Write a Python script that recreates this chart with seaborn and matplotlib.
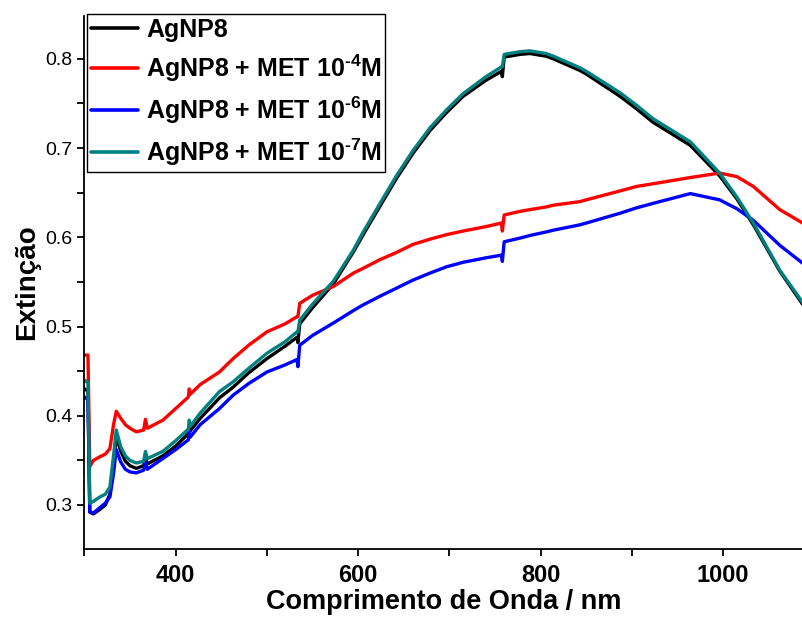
import matplotlib
matplotlib.use("Agg")
import matplotlib.pyplot as plt
import seaborn as sns
import pandas as pd
from matplotlib.ticker import MultipleLocator
from matplotlib import font_manager

# Plot configuration
sns.set_style("ticks")
names = {f.name for f in font_manager.fontManager.ttflist}
family = "Liberation Sans" if "Liberation Sans" in names else "DejaVu Sans"
plt.rcParams['font.family'] = [family, 'DejaVu Sans']
plt.rcParams['mathtext.fontset'] = 'custom'
plt.rcParams['mathtext.rm'] = family + ':bold'
plt.rcParams['mathtext.it'] = family + ':bold'
plt.rcParams['mathtext.bf'] = family + ':bold'
for key in ['text.color', 'axes.labelcolor', 'xtick.color', 'ytick.color']:
    plt.rcParams[key] = 'black'

# Data
wavelength = [300, 304, 306, 310, 317, 323, 328, 332, 335, 340, 345, 350, 357, 365, 367, 369,
              386, 400, 414, 415, 416, 427, 448, 463, 480, 500, 520, 533, 534, 536, 550, 573,
              595, 605, 624, 642, 660, 679, 697, 715, 740, 757, 758, 760, 777, 788, 806, 814,
              843, 850, 887, 905, 923, 964, 996, 1015, 1033, 1062, 1087]

agnp8 = [0.430, 0.428, 0.292, 0.290, 0.295, 0.300, 0.312, 0.345, 0.377, 0.360, 0.349, 0.344,
         0.341, 0.344, 0.353, 0.346, 0.355, 0.366, 0.380, 0.390, 0.383, 0.397, 0.420, 0.432,
         0.448, 0.464, 0.478, 0.488, 0.482, 0.503, 0.521, 0.548, 0.584, 0.602, 0.635, 0.666,
         0.694, 0.720, 0.740, 0.758, 0.776, 0.786, 0.780, 0.802, 0.805, 0.806, 0.803, 0.800,
         0.787, 0.783, 0.758, 0.744, 0.729, 0.703, 0.669, 0.643, 0.614, 0.562, 0.525]

met_1e4 = [0.468, 0.468, 0.343, 0.350, 0.354, 0.357, 0.363, 0.390, 0.405, 0.397, 0.390, 0.386,
           0.382, 0.384, 0.396, 0.386, 0.395, 0.408, 0.421, 0.430, 0.424, 0.435, 0.449, 0.464,
           0.479, 0.494, 0.503, 0.511, 0.511, 0.526, 0.535, 0.545, 0.560, 0.565, 0.575, 0.583,
           0.592, 0.598, 0.603, 0.607, 0.612, 0.616, 0.607, 0.625, 0.629, 0.631, 0.634, 0.636,
           0.640, 0.642, 0.652, 0.657, 0.660, 0.667, 0.672, 0.668, 0.657, 0.631, 0.616]

met_1e6 = [0.421, 0.418, 0.292, 0.291, 0.297, 0.302, 0.309, 0.335, 0.362, 0.348, 0.340, 0.337,
           0.336, 0.339, 0.349, 0.340, 0.352, 0.362, 0.373, 0.383, 0.376, 0.390, 0.408, 0.423,
           0.436, 0.449, 0.457, 0.463, 0.455, 0.479, 0.490, 0.504, 0.518, 0.524, 0.534, 0.543,
           0.552, 0.560, 0.567, 0.572, 0.577, 0.580, 0.573, 0.595, 0.599, 0.602, 0.606, 0.608,
           0.614, 0.616, 0.627, 0.633, 0.638, 0.649, 0.642, 0.632, 0.619, 0.591, 0.571]

met_1e7 = [0.440, 0.437, 0.302, 0.304, 0.309, 0.312, 0.320, 0.355, 0.384, 0.365, 0.355, 0.350,
           0.347, 0.349, 0.360, 0.352, 0.360, 0.372, 0.385, 0.395, 0.388, 0.403, 0.427, 0.438,
           0.453, 0.470, 0.483, 0.494, 0.494, 0.507, 0.525, 0.551, 0.586, 0.605, 0.638, 0.669,
           0.697, 0.723, 0.743, 0.761, 0.780, 0.791, 0.791, 0.805, 0.808, 0.809, 0.806, 0.803,
           0.790, 0.786, 0.762, 0.748, 0.733, 0.707, 0.672, 0.645, 0.616, 0.563, 0.527]

labels = ["AgNP8", r"AgNP8 + MET 10$^{\text{-}4}$M", r"AgNP8 + MET 10$^{\text{-}6}$M",
          r"AgNP8 + MET 10$^{\text{-}7}$M"]
colors = ["#000000", "#FF0000", "#0000FF", "#008080"]

rows = []
for lab, vals in zip(labels, [agnp8, met_1e4, met_1e6, met_1e7]):
    for w, v in zip(wavelength, vals):
        rows.append([w, v, lab])
df = pd.DataFrame(rows, columns=["wl", "ext", "sample"])

fig = plt.figure(figsize=(8.03, 6.17), dpi=100)
ax = fig.add_axes([0.105, 0.110, 0.895, 0.864])

sns.lineplot(data=df, x="wl", y="ext", hue="sample", hue_order=labels,
             palette=colors, linewidth=2.4, ax=ax, errorbar=None, sort=False)

ax.set_xlim(300, 1087.4)
ax.set_ylim(0.2505, 0.848)
ax.xaxis.set_minor_locator(MultipleLocator(100))
ax.yaxis.set_minor_locator(MultipleLocator(0.05))
ax.set_yticks([0.3, 0.4, 0.5, 0.6, 0.7, 0.8])
ax.set_xticks([400, 600, 800, 1000])
ax.tick_params(which="both", direction="out", length=5, width=1.3, color="black")
ax.tick_params(axis="x", labelsize=17, pad=6)
ax.tick_params(axis="y", labelsize=14)
for t in ax.get_xticklabels():
    t.set_fontweight("bold")

for s in ["top", "right"]:
    ax.spines[s].set_visible(False)
for s in ["left", "bottom"]:
    ax.spines[s].set_linewidth(1.3)
    ax.spines[s].set_color("black")

ax.set_xlabel("Comprimento de Onda / nm", fontsize=19.5, fontweight="bold", labelpad=1)
ax.set_ylabel("Extinção", fontsize=20, fontweight="bold", labelpad=4)

leg = ax.legend(loc="upper left", bbox_to_anchor=(0.004, 1.003), borderaxespad=0,
                fancybox=False, edgecolor="black", framealpha=1,
                prop={"weight": "bold", "size": 18}, handlelength=1.9,
                labelspacing=0.42, handletextpad=0.3, borderpad=0.15)
leg.get_frame().set_linewidth(1.0)
for line in leg.get_lines():
    line.set_linewidth(2.6)

fig.savefig("out.png", dpi=100)
